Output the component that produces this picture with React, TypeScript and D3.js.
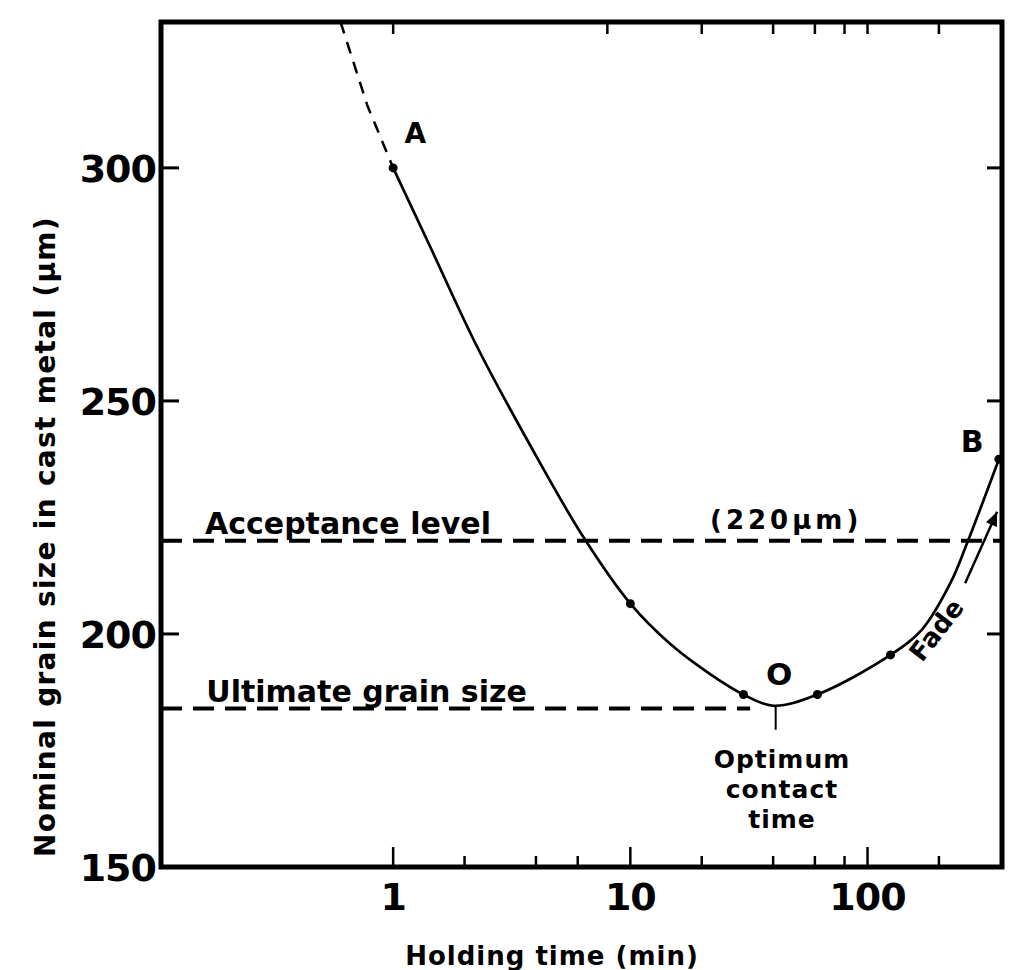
import React from 'react';
import * as d3 from 'd3';

// holding time (min) vs nominal grain size (µm)
const curveTimes = [1, 1.42, 2.24, 3.76, 6.3, 10, 14.7, 21.7, 30, 40, 61.5, 125, 170, 224, 263, 358];
const curveSizes = [300, 283.5, 262, 240.7, 221, 206.5, 197.9, 191.4, 187, 184.6, 187, 195.5, 201, 211, 219.5, 237.5];

// dashed extrapolation above point A
const extTimes = [0.6, 0.777, 1];
const extSizes = [331.3, 313.5, 300];

// measured points (dots)
const dotTimes = [1, 10, 30, 61.5, 125, 358];
const dotSizes = [300, 206.5, 187, 187, 195.5, 237.5];

const yTicks = [150, 200, 250, 300];
const yInnerTicks = [200, 250, 300];
const xLabelTicks = [1, 10, 100];
const xBottomMinor = [2, 4, 6, 20, 40, 60, 80, 200];
const xTopTicks = [1, 8, 20, 40, 60, 80, 100, 200];

const acceptanceLevel = 220;
const ultimateSize = 184;
const ultimateEnd = 32;
const optimumTime = 41;

const font = '"DejaVu Sans", sans-serif';

export default function App() {
  const width = 1014;
  const height = 970;
  const left = 161, right = 1002, top = 22, bottom = 867;

  const x = d3.scaleLog().domain([0.105, 369]).range([left, right]);
  const y = d3.scaleLinear().domain([150, 331.3]).range([bottom, top]);

  const line = d3
    .line<number>()
    .x((d, i) => x(curveTimes[i]))
    .y((d) => y(d))
    .curve(d3.curveCatmullRom.alpha(0.5));

  const extLine = d3
    .line<number>()
    .x((d, i) => x(extTimes[i]))
    .y((d) => y(d));

  const arrowStart = [x(258), y(210.9)];
  const arrowEnd = [x(352), y(226.2)];
  const ang = Math.atan2(arrowEnd[1] - arrowStart[1], arrowEnd[0] - arrowStart[0]);
  const ah = 14, aw = 6;
  const arrowHead = [
    arrowEnd,
    [arrowEnd[0] - ah * Math.cos(ang) + aw * Math.sin(ang), arrowEnd[1] - ah * Math.sin(ang) - aw * Math.cos(ang)],
    [arrowEnd[0] - ah * Math.cos(ang) - aw * Math.sin(ang), arrowEnd[1] - ah * Math.sin(ang) + aw * Math.cos(ang)],
  ];

  return (
    <svg
      width={width}
      height={height}
      style={{ position: 'absolute', left: 0, top: 0, background: '#fff' }}
      fontFamily={font}
    >
      {/* reference lines */}
      <line
        x1={left}
        x2={right}
        y1={y(acceptanceLevel)}
        y2={y(acceptanceLevel)}
        stroke="#000"
        strokeWidth={4}
        strokeDasharray="21 11"
      />
      <line
        x1={left}
        x2={x(ultimateEnd)}
        y1={y(ultimateSize)}
        y2={y(ultimateSize)}
        stroke="#000"
        strokeWidth={4}
        strokeDasharray="21 11"
      />

      {/* curve */}
      <path d={extLine(extSizes) || ''} fill="none" stroke="#000" strokeWidth={2.5} strokeDasharray="12 9" />
      <path d={line(curveSizes) || ''} fill="none" stroke="#000" strokeWidth={2.7} />
      {dotTimes.map((t, i) => (
        <circle key={i} cx={x(t)} cy={y(dotSizes[i])} r={4.5} fill="#000" />
      ))}

      {/* optimum marker */}
      <line x1={x(optimumTime)} x2={x(optimumTime)} y1={y(184.6)} y2={y(184.6) + 24} stroke="#000" strokeWidth={2} />

      {/* fade arrow */}
      <line x1={arrowStart[0]} y1={arrowStart[1]} x2={arrowEnd[0]} y2={arrowEnd[1]} stroke="#000" strokeWidth={2.5} />
      <polygon points={arrowHead.map((p) => p.join(',')).join(' ')} fill="#000" />

      {/* frame */}
      <rect x={left} y={top} width={right - left} height={bottom - top} fill="none" stroke="#000" strokeWidth={5} />

      {/* y ticks */}
      {yInnerTicks.map((v) => (
        <g key={v}>
          <line x1={left} x2={left + 18} y1={y(v)} y2={y(v)} stroke="#000" strokeWidth={3} />
          <line x1={right - 15} x2={right} y1={y(v)} y2={y(v)} stroke="#000" strokeWidth={3} />
        </g>
      ))}
      <line x1={left} x2={left + 8} y1={y(acceptanceLevel)} y2={y(acceptanceLevel)} stroke="#000" strokeWidth={3} />
      {yTicks.map((v) => (
        <text
          key={v}
          x={left - 5}
          y={y(v)}
          dy="0.36em"
          textAnchor="end"
          fontSize={38}
          fontWeight="bold"
          letterSpacing={-1}
        >
          {v}
        </text>
      ))}

      {/* x ticks */}
      {xLabelTicks.map((t) => (
        <g key={t}>
          <line x1={x(t)} x2={x(t)} y1={bottom} y2={bottom - 20} stroke="#000" strokeWidth={2.5} />
          <text x={x(t)} y={bottom + 43} textAnchor="middle" fontSize={38} fontWeight="bold" letterSpacing={-1}>
            {t}
          </text>
        </g>
      ))}
      {xBottomMinor.map((t) => (
        <line key={t} x1={x(t)} x2={x(t)} y1={bottom} y2={bottom - 11} stroke="#000" strokeWidth={2.5} />
      ))}
      {xTopTicks.map((t) => (
        <line key={t} x1={x(t)} x2={x(t)} y1={top} y2={top + 12} stroke="#000" strokeWidth={2.5} />
      ))}

      {/* axis titles */}
      <text x={552} y={965} textAnchor="middle" fontSize={26} fontWeight="bold" letterSpacing={1}>
        Holding time (min)
      </text>
      <text
        transform={`translate(55, ${(210 + 863) / 2}) rotate(-90)`}
        textAnchor="middle"
        fontSize={28}
        fontWeight="bold"
        letterSpacing={1.3}
      >
        Nominal grain size in cast metal (μm)
      </text>

      {/* annotations */}
      <text x={x(0.161)} y={y(acceptanceLevel) - 7} fontSize={30} fontWeight="bold">
        Acceptance level
      </text>
      <text x={x(45.4)} y={y(acceptanceLevel) - 12} textAnchor="middle" fontSize={26} fontWeight="bold" letterSpacing={4}>
        (220μm)
      </text>
      <text x={x(0.163)} y={y(ultimateSize) - 7} fontSize={30} fontWeight="bold">
        Ultimate grain size
      </text>
      <text x={x(1.24)} y={y(300) - 25} textAnchor="middle" fontSize={28} fontWeight="bold">
        A
      </text>
      <text x={x(276)} y={y(237.5) - 7} textAnchor="middle" fontSize={30} fontWeight="bold">
        B
      </text>
      <text x={x(42.4)} y={y(184.6) - 21} textAnchor="middle" fontSize={31} fontWeight="bold">
        O
      </text>
      {['Optimum', 'contact', 'time'].map((s, i) => (
        <text
          key={s}
          x={x(43.6)}
          y={bottom - [99, 69, 39][i]}
          textAnchor="middle"
          fontSize={25}
          fontWeight="bold"
          letterSpacing={1}
        >
          {s}
        </text>
      ))}
      <text
        transform={`translate(${x(194.6)}, ${y(200.9)}) rotate(-52)`}
        textAnchor="middle"
        dy="0.36em"
        fontSize={26}
        fontWeight="bold"
      >
        Fade
      </text>
    </svg>
  );
}
